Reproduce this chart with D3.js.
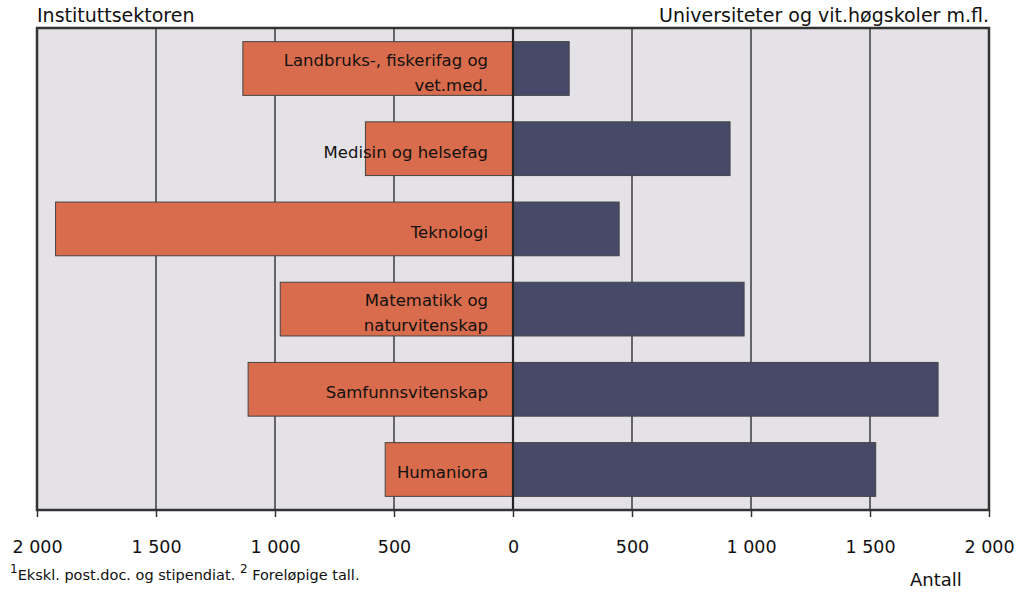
<!DOCTYPE html>
<html>
<head>
<meta charset="utf-8">
<script src="https://cdn.jsdelivr.net/npm/d3@7"></script>
<style>
	body { margin: 0; background: #fff; }
	svg text { font-family: "DejaVu Sans", Verdana, sans-serif; fill: #111; }
</style>
</head>
<body>
<div id="chart"></div>
<script>
// categories, top to bottom; two-line labels are split with "|"
const categories = [
	"Landbruks-, fiskerifag og|vet.med.",
	"Medisin og helsefag",
	"Teknologi",
	"Matematikk og|naturvitenskap",
	"Samfunnsvitenskap",
	"Humaniora"
];
const institutt = [1135, 620, 1922, 978, 1113, 537];
const universitet = [236, 912, 446, 971, 1786, 1524];
const tickValues = [-2000, -1500, -1000, -500, 0, 500, 1000, 1500, 2000];

const width = 1019, height = 592;
const margin = {top: 28, right: 30, bottom: 82, left: 37};
const orange = "#d96c4c", navy = "#464a68", plotBg = "#e4e2e7";

const svg = d3.select("#chart").append("svg")
	.attr("width", width)
	.attr("height", height);

const x = d3.scaleLinear()
	.domain([-2000, 2000])
	.range([margin.left, width - margin.right]);

const y = d3.scaleBand()
	.domain(d3.range(categories.length))
	.range([margin.top, height - margin.bottom])
	.paddingInner(0.33)
	.paddingOuter(0.17);

// plot background
svg.append("rect")
	.attr("x", x(-2000))
	.attr("y", margin.top)
	.attr("width", x(2000) - x(-2000))
	.attr("height", height - margin.bottom - margin.top)
	.attr("fill", plotBg);

// gridlines
svg.append("g")
	.selectAll("line")
	.data(tickValues.filter(d => Math.abs(d) !== 2000 && d !== 0))
	.join("line")
	.attr("x1", d => x(d)).attr("x2", d => x(d))
	.attr("y1", margin.top).attr("y2", height - margin.bottom)
	.attr("stroke", "#111")
	.attr("stroke-width", 1.2);

// bars
const bars = svg.append("g");
bars.selectAll("rect.left")
	.data(institutt)
	.join("rect")
	.attr("class", "left")
	.attr("x", d => x(-d))
	.attr("y", (d, i) => y(i))
	.attr("width", d => x(0) - x(-d))
	.attr("height", y.bandwidth())
	.attr("fill", orange)
	.attr("stroke", "#444")
	.attr("stroke-width", 1);

bars.selectAll("rect.right")
	.data(universitet)
	.join("rect")
	.attr("class", "right")
	.attr("x", x(0))
	.attr("y", (d, i) => y(i))
	.attr("width", d => x(d) - x(0))
	.attr("height", y.bandwidth())
	.attr("fill", navy)
	.attr("stroke", "#444")
	.attr("stroke-width", 1);

// zero line
svg.append("line")
	.attr("x1", x(0)).attr("x2", x(0))
	.attr("y1", margin.top).attr("y2", height - margin.bottom)
	.attr("stroke", "#222")
	.attr("stroke-width", 2.2);

// frame
svg.append("rect")
	.attr("x", x(-2000))
	.attr("y", margin.top)
	.attr("width", x(2000) - x(-2000))
	.attr("height", height - margin.bottom - margin.top)
	.attr("fill", "none")
	.attr("stroke", "#333")
	.attr("stroke-width", 2.5);

// category labels, right-aligned near zero
const labels = svg.append("g");
categories.forEach((c, i) => {
	const lines = c.split("|");
	const cy = y(i) + y.bandwidth() / 2;
	const t = labels.append("text")
		.attr("text-anchor", "end")
		.attr("font-size", 16.5);
	if (lines.length === 1) {
		t.append("tspan").attr("x", x(0) - 25).attr("y", cy + 9).text(lines[0]);
	} else {
		t.append("tspan").attr("x", x(0) - 25).attr("y", cy - 3).text(lines[0]);
		t.append("tspan").attr("x", x(0) - 25).attr("y", cy + 22).text(lines[1]);
	}
});

// x axis
const xAxis = d3.axisBottom(x)
	.tickValues(tickValues)
	.tickSize(7)
	.tickSizeOuter(0)
	.tickPadding(24);

const gX = svg.append("g")
	.attr("transform", `translate(0,${height - margin.bottom})`)
	.call(xAxis);
gX.select(".domain").remove();
gX.selectAll(".tick line").attr("stroke", "#333").attr("stroke-width", 1.5);
gX.selectAll(".tick text")
	.attr("font-size", 17.5)
	.attr("font-family", "DejaVu Sans, Verdana, sans-serif")
	.attr("fill", "#111")
	.text(d => d3.format(",")(Math.abs(d)).replace(/,/g, " "));

// side titles
svg.append("text")
	.attr("x", x(-2000))
	.attr("y", 22)
	.attr("font-size", 19)
	.text("Instituttsektoren");

svg.append("text")
	.attr("x", x(2000))
	.attr("y", 22)
	.attr("text-anchor", "end")
	.attr("font-size", 19)
	.text("Universiteter og vit.høgskoler m.fl.");

// footnote
const fn = svg.append("text")
	.attr("x", 10)
	.attr("y", 580)
	.attr("font-size", 14.5);
fn.append("tspan").attr("font-size", 12).attr("dy", -7).text("1");
fn.append("tspan").attr("dy", 7).text("Ekskl. post.doc. og stipendiat. ");
fn.append("tspan").attr("font-size", 12).attr("dy", -7).text("2");
fn.append("tspan").attr("dy", 7).text(" Foreløpige tall.");

svg.append("text")
	.attr("x", 910)
	.attr("y", 586)
	.attr("font-size", 18)
	.text("Antall");
</script>
</body>
</html>
